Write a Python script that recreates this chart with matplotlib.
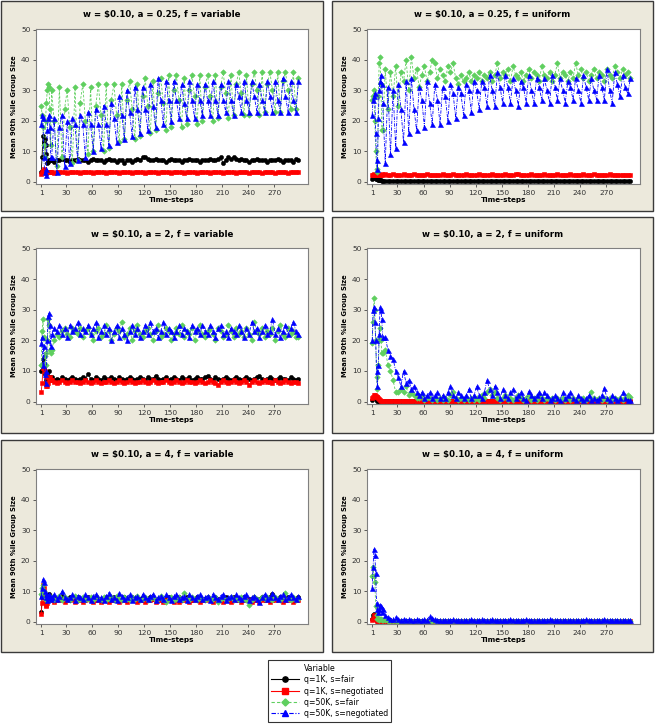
import numpy as np
import matplotlib.pyplot as plt
from matplotlib.lines import Line2D
from matplotlib.patches import Rectangle

plt.rcParams['font.family'] = ['DejaVu Sans']


def vals(s):
    return np.array(s.split(), dtype=float)


# time-steps shown: every step up to 12, then every third step
steps = np.r_[1:13, 13:300:3]

series_names = ['q=1K, s=fair', 'q=1K, s=negotiated',
                'q=50K, s=fair', 'q=50K, s=negotiated']

titles = ['w = \\$0.10, a = 0.25, f = variable', 'w = \\$0.10, a = 0.25, f = uniform',
          'w = \\$0.10, a = 2, f = variable', 'w = \\$0.10, a = 2, f = uniform',
          'w = \\$0.10, a = 4, f = variable', 'w = \\$0.10, a = 4, f = uniform']

ZERO_ROW = '0.1 0.1 0.1 0.1 0.1 0.1 0.1 0.1 0.1 0.1 0.1 0.1\n'

# ---- a = 0.25, f = variable
p1_fair_1k = vals("""3 8 15 13 14 12 9 6 6.5 7 7 7
7 6.5 7 7 7.5 7 7 6.5 7 7 7.5 7
7 7 6.5 7 7.5 7 7 7 6.5 7 7.5 7
7 6.5 7 7 6 7 7 6.5 7 7.5 7 8
8 7.5 7 7 7.5 7 7 7 6.5 7 7.5 7
7 7 6.5 7 7 7.5 7 7 7 6.5 7 7
7 7.5 7 7 7.5 8 6 7 8 7.5 8 7.5
7 7.5 7 7 6.5 7 7 7.5 7 7 7 6.5
7 7 7 7.5 7 6.5 7 7 7 6.5 7.5 7""")
p1_neg_1k = vals("""2.5 3 3.5 4.3 3.5 3 2.8 3 3 3 3 3
3 2.9 3 3.1 3 3 2.9 3 3.1 3 3 2.9
3 3 3.1 3 2.9 3 3 3.1 3 2.9 3 3
3.1 3 2.9 3 3 3.1 3 2.9 3 3 3.1 3
2.9 3 3 3.1 3 2.9 3 3 3.1 3 2.9 3
3 3.1 3 2.9 3 3 3.1 3 2.9 3 3 3.1
3 2.9 3 3 3.1 3 2.9 3 3 3.1 3 2.9
3 3 3.1 3 2.9 3 3 3.1 3 2.9 3 3
3.1 3 2.9 3 3 3.1 3 2.9 3 3 3.1 3""")
p1_fair_50k = vals("""25 22 18 12 8 20 26 30 32 31 24 12
30 20 5 31 8 24 30 18 6 31 7 26
32 20 9 31 10 25 32 22 10 32 11 27
32 22 13 32 14 27 33 24 14 32 15 28
34 25 16 33 17 29 34 26 17 35 18 30
35 27 18 34 19 30 35 28 19 35 20 31
35 28 20 35 21 31 36 29 21 35 22 32
36 29 22 35 22 32 36 30 22 36 23 32
36 30 23 36 23 33 36 30 24 36 24 34""")
p1_neg_50k = vals("""19 22 21 8 3 2 4 17 21 22 18 8
8 21 3 18 22 5 20 6 21 19 7 22
19 8 23 19 10 24 19 11 25 19 12 26
21 13 28 22 14 30 23 15 31 24 16 31
24 17 32 25 18 34 27 19 33 27 20 33
27 21 32 26 21 33 27 21 32 27 22 32
27 22 33 27 22 32 27 23 33 27 22 32
28 23 33 27 23 33 28 23 32 27 23 33
28 23 33 27 23 34 28 23 33 27 23 33""")

# ---- a = 0.25, f = uniform
p2_fair_1k = vals("""1 1.5 1.5 1.2 1 1 0.8 0.6 0.5 0.4 0.4 0.3
0.3 0.2 0.2 0.1 0.1 0.1 0.2 0.1 0.3 0.1 0.1 0.1
""" + ZERO_ROW * 7)
p2_neg_1k = vals("""2 2.2 2.5 2.3 2.2 2.4 2.3 2.2 2.1 2.3 2.2 2.4
2.2 2.4 2.1 2.3 2.5 2.2 2.0 2.3 2.4 2.1 2.2 2.3
2.4 2.2 2.1 2.3 2.2 2.5 2.1 2.2 2.3 2.0 2.2 2.4
2.3 2.1 2.2 2.4 2.2 2.1 2.3 2.2 2.5 2.2 2.1 2.3
2.2 2.4 2.3 2.1 2.2 2.3 2.4 2.2 2.1 2.3 2.2 2.4
2.1 2.3 2.2 2.6 2.4 2.2 2.1 2.3 2.2 2.4 2.1 2.2
2.3 2.2 2.4 2.1 2.3 2.2 2.2 2.4 2.1 2.3 2.2 2.1
2.4 2.2 2.3 2.1 2.2 2.4 2.3 2.1 2.2 2.5 2.2 2.3
2.1 2.3 2.2 2.4 2.2 2.1 2.3 2.2 2.0 2.3 2.2 2.1""")
p2_fair_50k = vals("""27 28 30 20 10 4 3 28 39 41 32 17
17 37 24 36 28 38 25 36 33 40 30 41
34 37 31 35 38 33 36 40 39 34 37 35
33 38 36 39 34 32 35 33 34 36 33 35
34 36 33 35 34 36 33 35 39 34 36 35
37 33 38 35 34 36 33 35 37 34 36 35
33 38 35 34 36 33 35 39 34 36 35 33
36 34 39 35 37 34 36 33 35 37 34 36
35 33 37 35 34 38 36 34 37 35 36 34""")
p2_neg_50k = vals("""22 27 28 29 16 7 4 21 30 33 35 32
26 6 31 9 30 11 32 24 13 33 16 34
24 17 31 27 18 33 26 19 32 27 19 31
28 20 32 29 21 31 29 22 32 30 23 33
30 24 33 31 25 35 30 25 36 31 26 35
31 26 34 30 25 33 31 26 35 30 26 34
31 27 34 30 26 35 31 27 34 30 26 33
31 27 34 30 26 35 31 27 34 30 27 35
31 27 37 30 26 36 32 28 35 31 29 34""")

# ---- a = 2, f = variable
p3_fair_1k = vals("""10 12 14 11 9 7 6 7 8 10 8 7
8 7 7.5 7 8 7.5 7 7.5 8 7.5 7 7.5
8 7.5 9 7.5 7 8 7.5 7 8 7.5 7.5 8
7.5 7 8 7.5 7 7.5 8 7.5 7 7.5 8 7.5
7 8 7.5 7.5 8.5 7.5 7 7.5 8 7 7.5 8
7.5 7 8 7.5 7.5 8 7 7.5 8 7.5 7.5 8
8.5 7.5 7 8 7.5 7 7.5 8 7.5 7 7.5 8
7.5 7 7.5 8 7.5 7 7.5 8 8.5 7.5 7 7.5
8 7.5 7 7.5 8 7.5 7.5 7 8 7.5 7 7.5""")
p3_neg_1k = vals("""3 6 11 11 10 8 5 5 6 7 8 7
7 6.5 6 6.5 7 6.5 6 6.5 7 6.5 6.5 6
6.5 7 6.5 6 6.5 7 6.5 6 6.5 6.5 7 6.5
6 6.5 7 6.5 6 6.5 7 6.5 6 6.5 6.5 7
6.5 6 6.5 7 6.5 6 6.5 6.5 7 6.5 6 6.5
7 6.5 6 6.5 7 6.5 6.5 6 6.5 7 6.5 6
6.5 7 6.5 6 5.5 6.5 7 6.5 6 6.5 7 6.5
6 6.5 7 6.5 5.5 6.5 7 6.5 6 6.5 7 6.5
6.5 6 7 6.5 6 6.5 7 6.5 6 6.5 6.5 6""")
p3_fair_50k = vals("""12 23 27 21 15 12 16 20 27 25 17 16
17 20 22 21 23 24 22 21 24 23 22 24
21 23 24 22 20 23 24 21 22 25 23 20
22 24 23 26 21 22 24 20 23 25 22 21
23 24 22 20 23 25 21 22 24 23 20 22
24 22 25 21 23 22 24 20 23 25 22 21
23 24 22 20 24 23 21 22 25 23 21 24
22 23 21 24 22 20 26 23 22 24 21 23
22 24 20 23 25 22 21 24 22 23 21 21""")
p3_neg_50k = vals("""19 21 12 18 9 6 10 20 28 29 25 18
22 24 23 25 22 24 21 25 23 24 26 22
24 23 25 22 24 26 21 23 25 22 24 20
23 25 21 24 22 20 23 25 22 24 21 23
25 22 26 23 24 21 23 26 22 24 23 21
23 25 22 24 23 21 25 23 24 22 25 23
22 25 23 21 24 25 22 23 21 24 23 22
25 23 21 24 22 26 23 24 21 23 25 22
23 27 22 24 21 23 25 22 24 26 23 22""")

# ---- a = 2, f = uniform
p4_fair_1k = vals("""0.5 1 1.5 1.5 1 0.5 0.3 0.2 0.1 0.1 0.1 0.1
""" + ZERO_ROW * 8)
p4_neg_1k = vals("""1 1.5 2 2 1.8 1.5 1.5 1 0.8 0.5 0.3 0.3
0.3 0.3 0.3 0.3 0.3 0.3 0.3 0.3 0.3 0.3 0.3 0.3
""" + ZERO_ROW * 7)
p4_fair_50k = vals("""19 26 34 30 20 8 4 12 20 24 20 16
16 17 12 10 7 3 3 4 3 5 2 3
2 1 1 2 0.5 1 1 0.5 1 0.5 1 0.5
1 0.5 2 3 1 0.5 1 0.5 1 0.5 1 0.5
1 0.5 2 1 3 4 2 3 1 0.5 1 2
0.5 1 0.5 1 2 1 0.5 1 2 0.5 1 0.5
2 1 0.5 1 0.5 1 0.5 1 0.5 1 0.5 1
0.5 1 0.5 1 0.5 1 0.5 1 3 1 0.5 1
0.5 1 0.5 1 0.5 1 0.5 1 0.5 1 2 1.5""")
p4_neg_50k = vals("""20 30 31 26 20 10 5 12 22 31 30 27
21 21 17 15 14 10 8 5 10 6 7 4
5 3 2 3 1 2 3 1 2 3 1 2
1 3 5 2 1 3 2 1 2 4 1 2
5 2 1 3 7 4 2 5 3 1 4 2
1 3 4 1 2 3 1 0.5 3.5 2 1 2
3 1 3 2 0.5 1 2 1 0.5 3 1 2
3 1 0.5 2 1 0.5 1 2 0.5 1 0.5 1
2 4.5 1 0.5 2 1 0.5 1 3 1 0.5 0.5""")

# ---- a = 4, f = variable
p5_fair_1k = vals("""3 8 12 10 8 7 6 7 8 9 8 8
7.5 8 7 7.5 8.5 7.5 7 8 7.5 7 8 7.5
7 7.5 8 7.5 7 8 7.5 7 7.5 8 7 7.5
8 7.5 7 7.5 8 7 7.5 8 7.5 7 7.5 8
7.5 7 8 7.5 7 7.5 8 7 7.5 8 7.5 7
7.5 8 7 7.5 8 7.5 7 7.5 8 7 7.5 7.5
8 7 7.5 8 7.5 7 7.5 8 7 7.5 8 7.5
7 7.5 8 7 7.5 7.5 8 7 7.5 8 7 7.5
8 9 7.5 7 8 7.5 7 8 7.5 7 7.5 8""")
p5_neg_1k = vals("""2.5 6 12 11 7 5.5 5 6 7 7 7 7.5
7 6.5 7 7.5 7 6.5 7 7 7.5 6.5 7 7
6.5 7 7.5 7 6.5 7 7 6.5 7.5 7 6.5 7
7 7.5 6.5 7 7 6.5 7 7.5 7 6.5 7 7
6.5 7 7 7.5 6.5 7 7 6.5 7 7.5 7 6.5
7 6.5 7.5 7 7 6.5 7 7.5 7 6.5 7 7
7.5 7 6.5 7 7 7.5 6.5 7 7 6.5 7.5 7
7 6.5 7 7.5 7 6.5 7 7 6.5 7 7.5 7
6.5 7 7 7.5 7 6.5 7 7 7.5 6.5 7 7""")
p5_fair_50k = vals("""9 11 12 10 8 7 8 7.5 8 7 8 7.5
8 7 7.5 8.5 7 8 7.5 7 8 8.5 7 7.5
8 7 7.5 8 7 8.5 7.5 7 8 7 7.5 8
7 8.5 7.5 7 8 7.5 7 8 7.5 8.5 7 7.5
8 7 7.5 8 7 7.5 8.5 7 6.5 7.5 8 7
7.5 8 7 9.5 7.5 7 8 7.5 7 8 7.5 7
8 7 7.5 8 6.5 7.5 8 7 7.5 8 7 7.5
7 8 7.5 7 5.5 7 8 7.5 7 8 7.5 8
7.5 7 8 7.5 7 8 9.5 7.5 7 8 7 7.5""")
p5_neg_50k = vals("""8.5 11 14 13 10 9 8 7 8 9 8 7.5
8 9 7.5 8.5 10 8 7.5 8 9 7 8.5 8
7.5 9 8 7 8.5 9 7.5 8 7 8.5 9.5 7.5
8 7 9.5 8.5 7.5 8 9 7 8 8.5 7.5 9
8 7.5 8.5 9 7 8 8.5 7.5 9 8 7 8.5
9 7.5 8 8.5 7 9 8 7.5 8.5 9 7.5 8
8.5 7 9 8 7.5 8.5 9 7 8 8.5 7.5 9
8 7.5 8.5 9 7 8 8.5 7.5 6.5 8 9 7.5
8 9.5 8 7.5 8.5 9 7.5 8 9 8 7.5 8.5""")

# ---- a = 4, f = uniform
p6_fair_1k = vals("""1 2 2.5 2 1 0.5 0.3 0.2 0.1 0.1 0.1 0.1
""" + ZERO_ROW * 8)
p6_neg_1k = vals("""0.5 1 2 1.5 0.8 0.5 0.3 0.2 0.1 0.1 0.1 0.1
""" + ZERO_ROW * 8)
p6_fair_50k = vals("""15 18 15 13 5 2 1 1 0.5 1 1 0.5
0.5 0.4 0.3 0.3 0.2 0.2 0.2 0.2 0.2 0.2 0.2 0.2
""" + ZERO_ROW * 7)
p6_neg_50k = vals("""11 18 24 22 16 6 4 3 4 5.5 5 3
4 2 1.5 1 1 1.5 0.8 0.6 0.8 0.6 0.7 0.6
0.6 0.7 0.6 0.6 0.7 0.6 1.8 1.2 0.8 0.6 0.6 0.5
0.6 0.5 0.6 0.7 0.5 0.6 0.5 0.6 0.5 0.6 0.7 0.5
0.6 0.5 0.7 0.6 0.5 0.6 0.7 0.6 0.5 0.6 0.5 0.6
0.6 0.7 0.5 0.6 0.5 0.6 0.5 0.7 0.6 0.5 0.6 0.5
0.5 0.6 0.5 0.6 0.7 0.5 0.6 0.5 0.6 0.5 0.6 0.5
0.6 0.5 0.6 0.5 0.6 0.5 0.7 0.5 0.6 0.5 0.6 0.5
0.6 0.8 0.5 0.6 0.5 0.6 0.5 0.6 0.5 0.6 0.5 0.4""")

panels = [
    [p1_fair_1k, p1_neg_1k, p1_fair_50k, p1_neg_50k],
    [p2_fair_1k, p2_neg_1k, p2_fair_50k, p2_neg_50k],
    [p3_fair_1k, p3_neg_1k, p3_fair_50k, p3_neg_50k],
    [p4_fair_1k, p4_neg_1k, p4_fair_50k, p4_neg_50k],
    [p5_fair_1k, p5_neg_1k, p5_fair_50k, p5_neg_50k],
    [p6_fair_1k, p6_neg_1k, p6_fair_50k, p6_neg_50k],
]

xticks = [1, 30, 60, 90, 120, 150, 180, 210, 240, 270]
yticks = [0, 10, 20, 30, 40, 50]

# styles: colour, line style, marker, marker size
styles = [
    ('#000000', '-', 'o', 3.0),
    ('#ff0000', '-', 's', 2.9),
    ('#5fcf5f', (0, (3, 2)), 'D', 2.8),
    ('#0000ff', (0, (4, 1.5, 1, 1.5)), '^', 3.6),
]

W, H = 655, 724
fig = plt.figure(figsize=(W / 100, H / 100), dpi=100)


def fbox(x0, y0, x1, y1):
    # pixel box (top-left origin) -> figure fraction [l, b, w, h]
    return [x0 / W, 1 - y1 / H, (x1 - x0) / W, (y1 - y0) / H]


col_frames = [(1, 323), (332, 653)]
row_frames = [(1, 211), (217, 433), (440, 652)]
col_axes = [(36, 308), (367, 640)]
row_axes = [(29, 184), (248, 404), (469, 624)]
title_y = [15, 234, 455]

for k, data in enumerate(panels):
    r, c = divmod(k, 2)
    fx0, fx1 = col_frames[c]
    fy0, fy1 = row_frames[r]
    l, b, w, h = fbox(fx0, fy0, fx1, fy1)
    fig.add_artist(Rectangle((l, b), w, h, transform=fig.transFigure,
                             facecolor='#ece9dc', edgecolor='#3a3a3a',
                             linewidth=1.0, zorder=0))
    fig.text((fx0 + fx1) / 2 / W, 1 - title_y[r] / H, titles[k],
             ha='center', va='center', fontsize=6.2, fontweight='bold')

    ax = fig.add_axes(fbox(col_axes[c][0], row_axes[r][0], col_axes[c][1], row_axes[r][1]))
    ax.set_facecolor('white')
    for y, (col, ls, mk, ms) in zip(data, styles):
        ax.plot(steps, y, color=col, linestyle=ls, linewidth=0.6,
                marker=mk, markersize=ms, markeredgewidth=0.4,
                markerfacecolor=col, markeredgecolor=col)
    ax.set_xlim(-5, 309)
    ax.set_ylim(-0.8, 50.2)
    ax.set_xticks(xticks)
    ax.set_yticks(yticks)
    ax.tick_params(labelsize=5.4, length=2.5, width=0.6, pad=1.5,
                   colors='#444444', labelcolor='#333333')
    for sp in ax.spines.values():
        sp.set_color('#808080')
        sp.set_linewidth(0.8)
    ax.set_xlabel('Time-steps', fontsize=5.2, fontweight='bold', labelpad=1)
    ax.set_ylabel('Mean 90th %ile Group Size', fontsize=4.9, fontweight='bold', labelpad=3)

handles = [Line2D([], [], linestyle='none')]
labels = ['Variable']
for name, (col, ls, mk, ms) in zip(series_names, styles):
    handles.append(Line2D([], [], color=col, linestyle=ls, linewidth=0.8,
                          marker=mk, markersize=ms + 0.8,
                          markerfacecolor=col, markeredgecolor=col))
    labels.append(name)

leg = fig.legend(handles, labels, loc='center', bbox_to_anchor=(329.5 / W, 1 - 691 / H),
                 fontsize=5.6, frameon=True, fancybox=False, handlelength=3.6,
                 handletextpad=0.6, borderpad=0.45, labelspacing=0.3)
leg.get_frame().set_edgecolor('black')
leg.get_frame().set_linewidth(0.8)

fig.savefig('out.png', dpi=100, facecolor='white')
